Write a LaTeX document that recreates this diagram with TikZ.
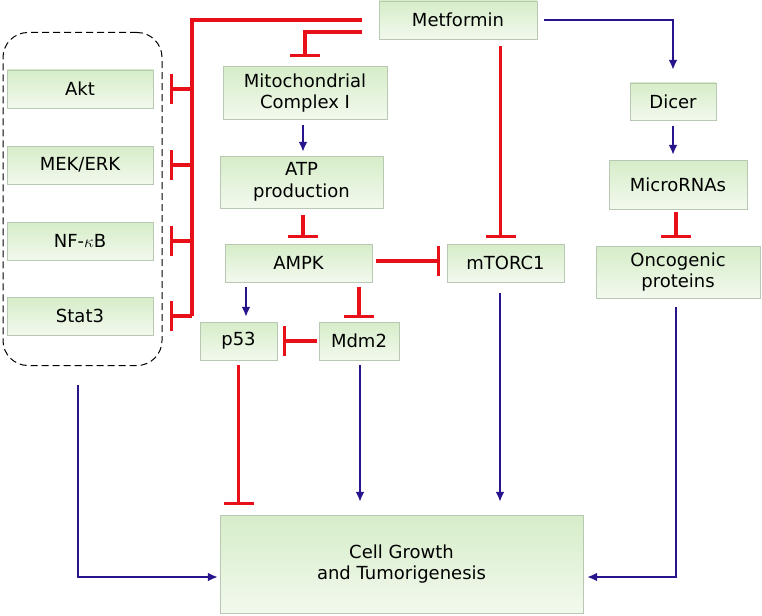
\documentclass[tikz,border=0pt]{standalone}
\usepackage{fontspec}
\setmainfont{DejaVu Sans}
\usetikzlibrary{arrows.meta, calc}
\definecolor{boxtop}{RGB}{214,237,200}
\definecolor{boxbot}{RGB}{242,249,238}
\definecolor{boxline}{RGB}{185,200,178}
\definecolor{inhred}{RGB}{232,16,24}
\definecolor{actblue}{RGB}{40,20,140}

\begin{document}
\begin{tikzpicture} [x = 1pt, y = -1pt,
  font = \fontsize{18}{21.5}\selectfont,
  box/.style = {draw = boxline, top color = boxtop, bottom color = boxbot, align = center, inner sep = 0pt},
  inh/.style = {draw = inhred, line width = 3.2pt, -{Bar[width = 30pt]}},
  act/.style = {draw = actblue, line width = 2.8pt, -{Latex[length = 10pt, width = 9pt]}}]
\useasboundingbox (0,0) rectangle (762,615);
% proteins
\node[box, minimum width = 158pt, minimum height = 38pt] (met) at (458,20) {Metformin};
\node[draw, line width = 1pt, dash pattern = on 7pt off 4pt, rounded corners = 25pt, minimum width = 159pt, minimum height = 333pt] (grp) at (82.5,199) {};
\node[box, minimum width = 146pt, minimum height = 38pt] (akt) at (80,89) {Akt};
\node[box, minimum width = 146pt, minimum height = 38pt] (mek) at (80,165) {MEK/ERK};
\node[box, minimum width = 146pt, minimum height = 38pt] (nfkb) at (80,241) {NF-$\kappa$B};
\node[box, minimum width = 146pt, minimum height = 38pt] (stat) at (80,316) {Stat3};
\node[box, minimum width = 164pt, minimum height = 53pt] (mito) at (305,93) {Mitochondrial\\Complex I};
\node[box, minimum width = 163pt, minimum height = 52pt] (atp) at (301.5,182) {ATP\\production};
\node[box, minimum width = 147pt, minimum height = 38pt] (ampk) at (298.5,263) {AMPK};
\node[box, minimum width = 117pt, minimum height = 38pt] (mtor) at (505.5,263) {mTORC1};
\node[box, minimum width = 86pt, minimum height = 37pt] (dicer) at (673,101.5) {Dicer};
\node[box, minimum width = 138pt, minimum height = 49pt] (mirna) at (678,184.5) {MicroRNAs};
\node[box, minimum width = 164pt, minimum height = 52pt] (onco) at (678,272) {Oncogenic\\proteins};
\node[box, minimum width = 77pt, minimum height = 38pt] (p53) at (238.5,341) {p53};
\node[box, minimum width = 80pt, minimum height = 38pt] (mdm) at (359,341) {Mdm2};
\node[box, minimum width = 363pt, minimum height = 98pt] (cell) at (401.5,564) {Cell Growth\\and Tumorigenesis};
\coordinate (trunk) at (192,20);
% metformin branches
\draw[inhred, line width = 3.2pt, shorten < = 17pt] (met.west) -- (trunk) -- (trunk |- stat.east);
\foreach \t in {akt, mek, nfkb, stat}
  \draw[inh, shorten > = 17pt] (trunk |- \t.east) -- (\t.east);
\draw[inh, shorten > = 9pt] ($(met.west)+(-17,12)$) -| (mito.north);
\draw[inh, shorten < = 7pt, shorten > = 6pt] ([xshift = -5pt]mtor.north |- met.south) -- ([xshift = -5pt]mtor.north);
\draw[act, shorten < = 7pt, shorten > = 13pt] (met.east) -| (dicer.north);
% left column
\draw[act, shorten < = 5pt, shorten > = 4pt] ([xshift = -2pt]mito.south) -- ([xshift = -2pt]mito.south |- atp.north);
\draw[inh, shorten < = 7pt, shorten > = 6pt] ([xshift = 1.5pt]atp.south) -- ([xshift = 1.5pt]atp.south |- ampk.north);
\draw[inh, shorten < = 4pt, shorten > = 7pt] ([yshift = 2pt]ampk.east) -- ([yshift = 2pt]ampk.east -| mtor.west);
\draw[act, shorten < = 5pt, shorten > = 5pt] (ampk.south -| 246,0) -- (p53.north -| 246,0);
\draw[inh, shorten < = 5pt, shorten > = 4pt] (ampk.south -| mdm.north) -- (mdm.north);
\draw[inh, shorten < = 2pt, shorten > = 6pt] (mdm.west) -- (p53.east);
% right column
\draw[act, shorten < = 6pt, shorten > = 5pt] (dicer.south) -- (dicer.south |- mirna.north);
\draw[inh, shorten < = 3pt, shorten > = 8pt] ([xshift = -2pt]mirna.south) -- ([xshift = -2pt]mirna.south |- onco.north);
% to cell growth
\draw[inh, shorten < = 5pt, shorten > = 10pt] (p53.south) -- (p53.south |- cell.north);
\draw[act, shorten < = 5pt, shorten > = 13pt] ([xshift = 1pt]mdm.south) -- ([xshift = 1pt]mdm.south |- cell.north);
\draw[act, shorten < = 11pt, shorten > = 13pt] ([xshift = -5.5pt]mtor.south) -- ([xshift = -5.5pt]mtor.south |- cell.north);
\draw[act, shorten < = 19pt, shorten > = 2pt] (grp.south -| 78,0) |- ($(cell.west)+(0,13)$);
\draw[act, shorten < = 9pt, shorten > = 4pt] ([xshift = -2pt]onco.south) |- ($(cell.east)+(0,13)$);
\end{tikzpicture}
\end{document}
